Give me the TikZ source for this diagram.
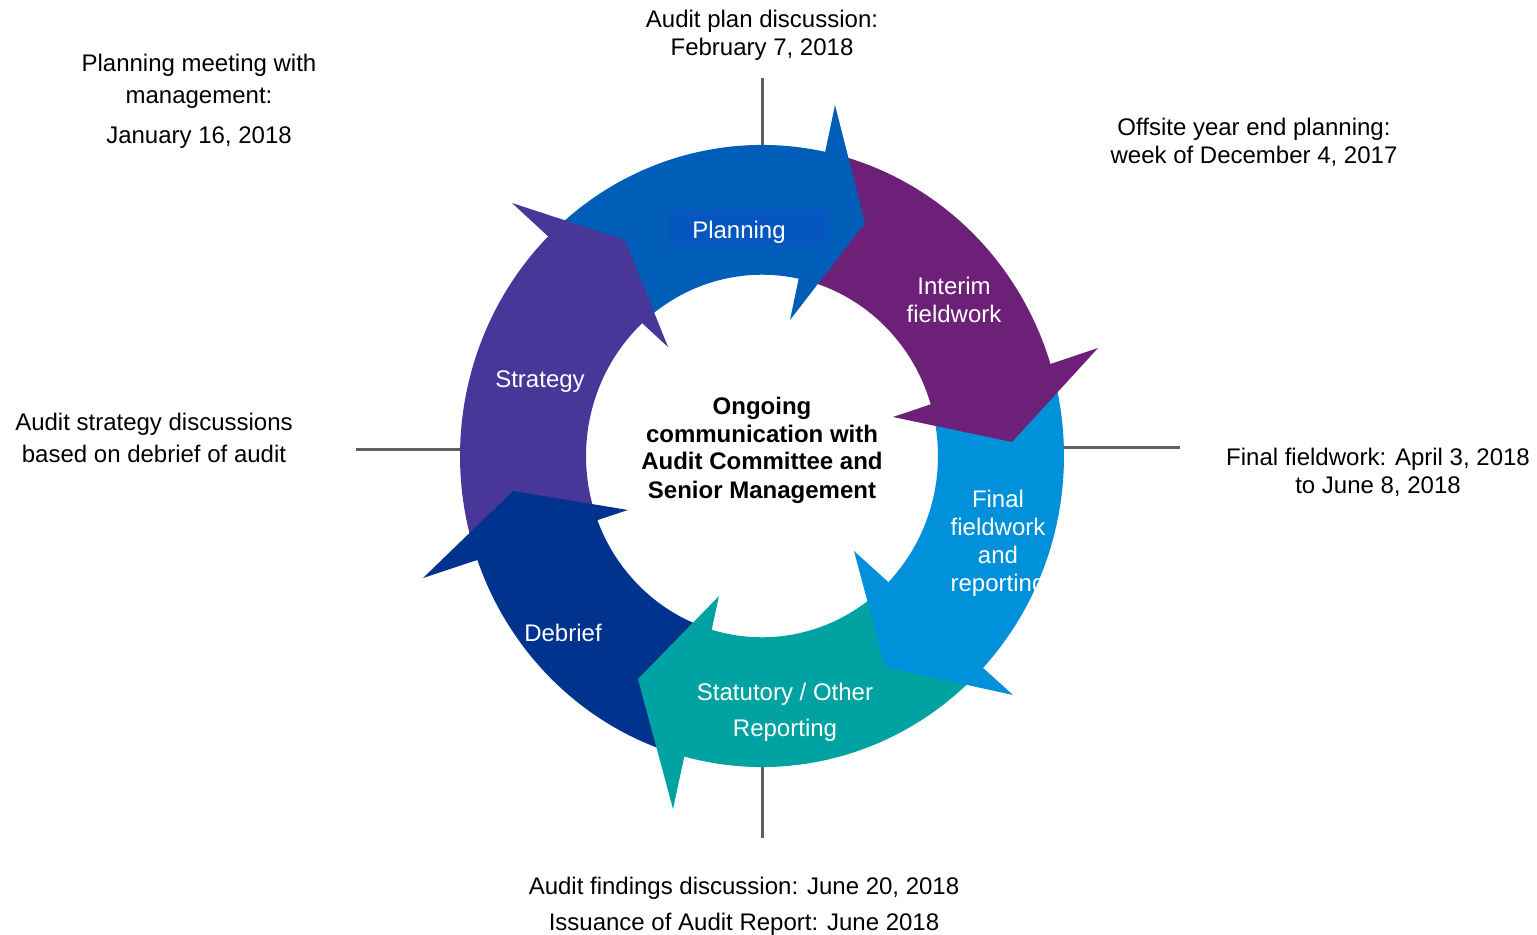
\documentclass[tikz,border=0pt]{standalone}
\usepackage{fontspec}
\setmainfont{Liberation Sans}
\definecolor{cPlan}{RGB}{0,94,184}
\definecolor{cPlanBox}{RGB}{6,86,192}
\definecolor{cInter}{RGB}{109,32,119}
\definecolor{cFinal}{RGB}{0,145,218}
\definecolor{cStat}{RGB}{0,163,161}
\definecolor{cDeb}{RGB}{0,51,141}
\definecolor{cStrat}{RGB}{72,54,152}
\definecolor{cTick}{RGB}{95,95,95}
\newcommand\ringbody[3]{\fill[#1] plot[domain=#2:#3, samples=60] (\x:302) -- plot[domain=#3:#2, samples=60] (\x:176) -- cycle;}
\begin{document}
\begin{tikzpicture}[x=0.5pt,y=-0.5pt,
  lab/.style={font=\fontsize{12}{14}\selectfont, anchor=base, inner sep=0pt},
  wlab/.style={lab, text=white},
  blab/.style={lab, font=\fontsize{12}{14}\selectfont\bfseries},
  tickline/.style={draw=cTick, line width=1.5pt}]
\useasboundingbox (0,0) rectangle (1537,935);
% tick lines
\coordinate (tTa) at (762,78);   \coordinate (tTb) at (762,200);
\coordinate (tBa) at (762,700);  \coordinate (tBb) at (762,838);
\coordinate (tLa) at (356,450);  \coordinate (tLb) at (500,450);
\coordinate (tRa) at (1020,448); \coordinate (tRb) at (1180,448);
\draw[tickline] (tTa) -- (tTb);
\draw[tickline] (tBa) -- (tBb);
\draw[tickline] (tLa) -- (tLb);
\draw[tickline] (tRa) -- (tRb);
% ring bodies
\begin{scope}[shift={(762,456)}, yscale=-1.03]
  \ringbody{cPlan}{131}{76.5}
  \ringbody{cInter}{76.5}{15}
  \ringbody{cFinal}{15}{-47}
  \ringbody{cStat}{-47}{-109}
  \ringbody{cDeb}{-109}{-161.5}
  \ringbody{cStrat}{198.5}{131}
\end{scope}
% arrow heads
\fill[cPlan]   (835,105) -- (865,223) -- (790,320) -- cycle;
\fill[cInter]  (1098,348) -- (1012,442) -- (893,417) -- cycle;
\fill[cFinal]  (1013,695) -- (885,667) -- (854,551) -- cycle;
\fill[cStat]   (719,596) -- (638,679) -- (673,809) -- cycle;
\fill[cDeb]    (423,578) -- (513,491) -- (628,510) -- cycle;
\fill[cStrat]  (512,203) -- (625,240) -- (668,347) -- cycle;
\fill[cPlanBox] (670,209) rectangle (828,245);
% ring labels
\node[wlab] (planning) at (739,239) {Planning};
\node[wlab] (interim1) at (954,295) {Interim};
\node[wlab] (interim2) at (954,323) {fieldwork};
\node[wlab] (strategy) at (540,388) {Strategy};
\node[wlab] (final1) at (998,508) {Final};
\node[wlab] (final2) at (998,536) {fieldwork};
\node[wlab] (final3) at (998,563) {and};
\begin{scope}
  \clip (900,560) rectangle (1039,610);
  \node[wlab] (final4) at (998,591) {reporting};
\end{scope}
\node[wlab] (debrief) at (563,641) {Debrief};
\node[wlab] (stat1) at (785,700) {Statutory / Other};
\node[wlab] (stat2) at (785,736) {Reporting};
% centre
\node[blab] (c1) at (762,415) {Ongoing};
\node[blab] (c2) at (762,443) {communication with};
\node[blab] (c3) at (762,470) {Audit Committee and};
\node[blab] (c4) at (762,499) {Senior Management};
% outer texts
\node[lab] (top1) at (762,28) {Audit plan discussion:};
\node[lab] (top2) at (762,56) {February 7, 2018};
\node[lab] (pm1) at (199,72) {Planning meeting with};
\node[lab] (pm2) at (199,104) {management:};
\node[lab] (pm3) at (199,144) {January 16, 2018};
\node[lab] (off1) at (1254,136) {Offsite year end planning:};
\node[lab] (off2) at (1254,164) {week of December 4, 2017};
\node[lab] (as1) at (154,431) {Audit strategy discussions};
\node[lab] (as2) at (154,463) {based on debrief of audit};
\node[lab] (ff1) at (1378,466) {Final fieldwork: April 3, 2018};
\node[lab] (ff2) at (1378,494) {to June 8, 2018};
\node[lab] (bot1) at (744,894) {Audit findings discussion: June 20, 2018};
\node[lab] (bot2) at (744,930) {Issuance of Audit Report: June 2018};
\end{tikzpicture}
\end{document}
